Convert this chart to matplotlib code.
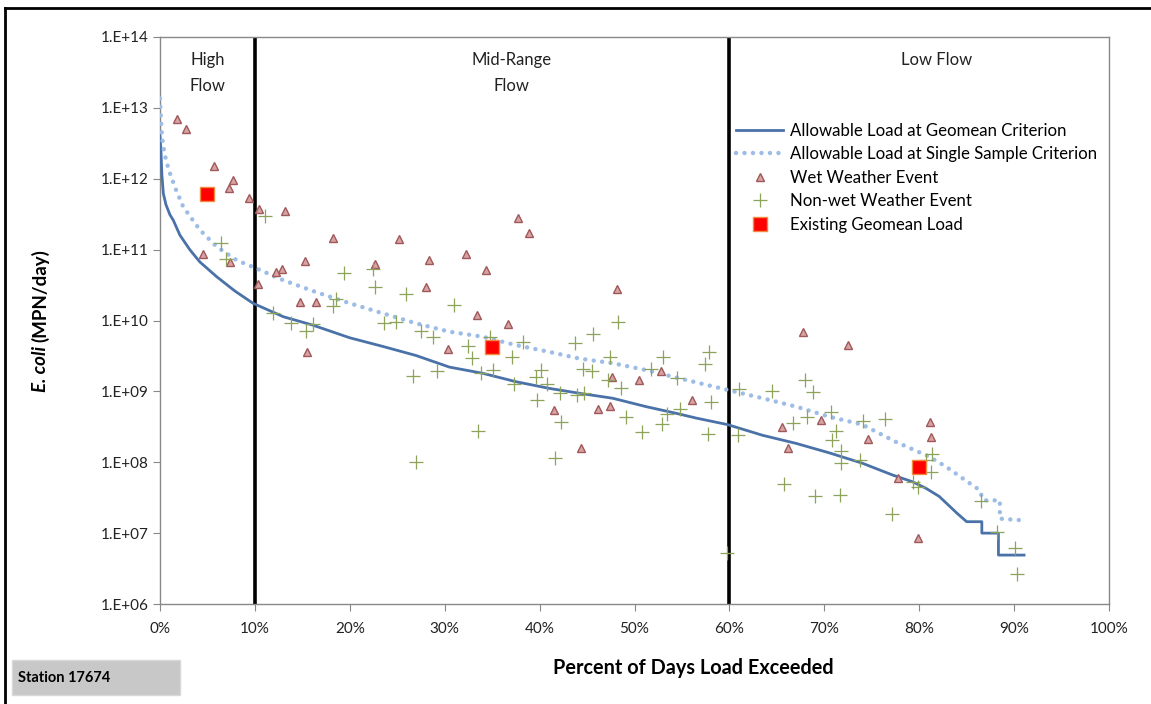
import math
import matplotlib
matplotlib.use("Agg")
from matplotlib import pyplot as plt
from matplotlib.ticker import PercentFormatter, FuncFormatter, LogLocator, NullLocator
from matplotlib.patches import Rectangle
from matplotlib.lines import Line2D

plt.rcParams['font.family'] = ['Lato', 'DejaVu Sans']

# allowable load curves (percent exceeded, MPN/day)
geo_pct = [0.0, 0.1, 0.2, 0.35, 0.63, 1.05, 1.4, 2.1, 3.16, 4.2, 5.97, 7.9, 9.8, 13.0,
           16.1, 20.0, 23.5, 27.0, 30.5, 34.0, 37.5, 41.05, 44.2, 47.7, 51.2, 54.4,
           56.5, 59.8, 63.5, 67.0, 70.5, 74.0, 77.2, 79.3, 80.7, 82.1, 83.2, 84.0,
           85.0, 86.6, 86.6, 88.35, 88.35, 91.05]
geo_load = [4.0e12, 2.5e12, 1.13e12, 6.2e11, 4.3e11, 3.1e11, 2.6e11, 1.6e11, 9.9e10,
            6.7e10, 4.15e10, 2.6e10, 1.75e10, 1.13e10, 8.6e9, 5.7e9, 4.3e9, 3.2e9,
            2.2e9, 1.8e9, 1.37e9, 1.1e9, 9.4e8, 8.0e8, 6.1e8, 4.9e8, 4.2e8, 3.4e8,
            2.4e8, 1.85e8, 1.36e8, 9.7e7, 6.6e7, 5.3e7, 4.3e7, 3.3e7, 2.4e7, 1.9e7,
            1.45e7, 1.45e7, 1.0e7, 1.0e7, 4.9e6, 4.9e6]

ss_pct = [0.0, 0.1, 0.2, 0.35, 0.63, 1.05, 1.7, 2.45, 4.2, 5.97, 8.07, 10.2, 13.0,
          16.5, 20.0, 23.5, 27.0, 30.5, 34.0, 37.5, 41.05, 44.2, 47.7, 51.2, 54.7,
          59.8, 63.5, 67.0, 70.5, 74.0, 77.5, 81.05, 82.8, 84.6, 86.3, 86.8, 88.5,
          88.5, 90.5]
ss_load = [1.36e13, 6.8e12, 4.15e12, 2.8e12, 1.84e12, 1.19e12, 6.9e11, 4.0e11,
           1.9e11, 1.1e11, 7.1e10, 5.4e10, 3.7e10, 2.5e10, 1.75e10, 1.26e10, 9.1e9,
           6.95e9, 5.9e9, 4.5e9, 3.6e9, 2.9e9, 2.5e9, 2.0e9, 1.53e9, 1.05e9, 8.0e8,
           6.1e8, 4.4e8, 3.4e8, 1.95e8, 1.2e8, 8.7e7, 5.9e7, 4.1e7, 2.9e7, 2.9e7,
           1.6e7, 1.53e7]

# wet weather samples
wet_pct = [1.76, 2.7, 5.65, 7.65, 7.26, 9.4, 10.45, 13.16, 18.2, 25.2, 37.7, 38.9,
           4.56, 7.37, 15.26, 22.7, 28.3, 32.2, 12.2, 12.9, 34.3, 10.35, 28.0, 14.8,
           16.45, 33.4, 36.7, 30.3, 15.5, 41.5, 44.4, 46.2, 48.2, 47.6, 50.5, 52.8,
           47.4, 56.1, 67.8, 72.5, 65.5, 69.7, 66.2, 74.6, 81.1, 81.2, 77.8, 79.9]
wet_load = [7.0e12, 5.0e12, 1.53e12, 9.5e11, 7.5e11, 5.3e11, 3.8e11, 3.5e11, 1.45e11,
            1.4e11, 2.8e11, 1.7e11, 8.7e10, 6.7e10, 7.0e10, 6.3e10, 7.1e10, 8.7e10,
            4.9e10, 5.3e10, 5.1e10, 3.3e10, 3.0e10, 1.8e10, 1.8e10, 1.18e10, 8.8e9,
            4.0e9, 3.6e9, 5.4e8, 1.6e8, 5.6e8, 2.8e10, 1.6e9, 1.45e9, 1.96e9, 6.3e8,
            7.6e8, 6.9e9, 4.5e9, 3.1e8, 3.9e8, 1.57e8, 2.1e8, 3.7e8, 2.3e8, 5.9e7,
            8.5e6]

# non-wet weather samples
dry_pct = [11.05, 6.42, 6.92, 19.4, 22.4, 22.7, 25.9, 18.5, 18.2, 31.0, 11.86, 23.6,
           24.9, 13.76, 16.07, 15.4, 27.5, 28.8, 34.8, 45.6, 38.2, 43.7, 32.5, 32.9,
           37.1, 35.05, 33.8, 40.2, 39.6, 40.8, 37.3, 29.2, 26.7, 42.2, 43.9, 44.7,
           39.7, 42.3, 33.5, 27.0, 41.6, 44.6, 45.5, 48.3, 47.4, 53.0, 57.8, 57.4,
           51.7, 54.5, 47.2, 48.6, 58.1, 54.8, 53.4, 49.1, 52.9, 50.8, 57.7, 61.0,
           60.9, 59.7, 64.5, 68.0, 68.8, 66.7, 68.2, 70.7, 71.2, 70.8, 74.1, 76.4,
           71.8, 71.8, 73.8, 65.8, 69.0, 71.7, 77.1, 81.3, 80.7, 81.2, 79.3, 79.9,
           86.5, 88.2, 90.1, 90.3]
dry_load = [3.0e11, 1.23e11, 7.3e10, 4.7e10, 5.4e10, 3.0e10, 2.4e10, 2.0e10, 1.6e10,
            1.65e10, 1.26e10, 9.3e9, 9.6e9, 9.1e9, 8.8e9, 7.2e9, 7.2e9, 5.9e9, 5.8e9,
            6.5e9, 5.0e9, 4.8e9, 4.3e9, 3.0e9, 3.1e9, 2.0e9, 1.8e9, 2.0e9, 1.6e9,
            1.28e9, 1.28e9, 1.94e9, 1.66e9, 9.4e8, 8.8e8, 9.6e8, 7.5e8, 3.7e8, 2.8e8,
            1.0e8, 1.14e8, 2.1e9, 1.96e9, 9.6e9, 3.1e9, 3.1e9, 3.6e9, 2.4e9, 2.1e9,
            1.53e9, 1.45e9, 1.13e9, 7.0e8, 5.7e8, 4.8e8, 4.4e8, 3.5e8, 2.7e8, 2.5e8,
            1.09e9, 2.45e8, 5.2e6, 1.01e9, 1.45e9, 9.7e8, 3.6e8, 4.4e8, 5.1e8, 2.8e8,
            2.06e8, 3.8e8, 4.1e8, 1.43e8, 9.7e7, 1.08e8, 4.9e7, 3.3e7, 3.5e7, 1.86e7,
            1.31e8, 1.08e8, 7.4e7, 5.3e7, 4.5e7, 2.8e7, 1.03e7, 6.2e6, 2.65e6]

# existing geomean load per flow regime
gm_pct = [5, 35, 80]
gm_load = [6.1e11, 4.2e9, 8.5e7]

zone_edges = [10, 60]
zone_labels = ["High\nFlow", "Mid-Range\nFlow", "Low Flow"]
zone_label_x = [5, 37, 81.8]

fig = plt.figure(figsize=(11.51, 7.04), dpi=100)
ax = fig.add_axes([160 / 1151, 1 - 604 / 704, 949 / 1151, 567 / 704])

ax.plot(geo_pct, geo_load, color='#4a72a8', lw=2, label='Allowable Load at Geomean Criterion', zorder=3)
ax.plot(ss_pct, ss_load, color='#9dbde6', lw=3.2, linestyle=(0, (0.01, 1.9)),
        dash_capstyle='round', label='Allowable Load at Single Sample Criterion', zorder=3)
ax.plot(wet_pct, wet_load, linestyle='none', marker='^', markersize=5.5,
        markerfacecolor='#d8a3a3', markeredgecolor='#a0585a', markeredgewidth=1,
        label='Wet Weather Event', zorder=4)
ax.plot(dry_pct, dry_load, linestyle='none', marker='+', markersize=10,
        markeredgewidth=0.9, color='#8ea35a', label='Non-wet Weather Event', zorder=4)
ax.plot(gm_pct, gm_load, linestyle='none', marker='s', markersize=10,
        markerfacecolor='#ff0000', markeredgecolor='#f08a40', markeredgewidth=1,
        label='Existing Geomean Load', zorder=5)

for xe in zone_edges:
    ax.axvline(xe, color='black', lw=2.6, zorder=2)

for xl, txt in zip(zone_label_x, zone_labels):
    ax.text(xl, 0.973, txt, transform=ax.get_xaxis_transform(), ha='center', va='top',
            fontsize=12, color='#222222', linespacing=1.75)

ax.set_xlim(0, 100)
ax.set_yscale('log')
ax.set_ylim(1e6, 1e14)
ax.set_xticks(range(0, 101, 10))
ax.xaxis.set_major_formatter(PercentFormatter(100, decimals=0))
ax.yaxis.set_major_locator(LogLocator(base=10, numticks=20))
ax.yaxis.set_minor_locator(NullLocator())
ax.yaxis.set_major_formatter(FuncFormatter(lambda v, p: '1.E+%02d' % round(math.log10(v))))
ax.tick_params(direction='out', length=5, color='#888888', labelsize=11, labelcolor='#222222')
ax.tick_params(axis='x', pad=8)
for s in ax.spines.values():
    s.set_color('#888888')
    s.set_linewidth(1)

ax.set_xlabel('Percent of Days Load Exceeded', fontsize=14.3, fontweight='bold')
ax.xaxis.set_label_coords((693 - 160) / 949, -(668 - 604) / 567)
ax.xaxis.label.set_va('center')

# y label: italic species name + units
fig.text(40 / 1151, 1 - 346 / 704, 'E. coli', rotation=90, ha='center', va='top',
         fontsize=13.5, fontweight='bold', fontstyle='italic')
fig.text(40 / 1151, 1 - 342 / 704, '(MPN/day)', rotation=90, ha='center', va='bottom',
         fontsize=13.5, fontweight='bold')

leg = ax.legend(loc='upper left', bbox_to_anchor=(0.6, 0.861), frameon=False,
                fontsize=12.1, handlelength=2.8, handletextpad=0.4, labelspacing=0.45,
                borderaxespad=0)

# station tag
fig.patches.append(Rectangle((12 / 1151, 1 - 695 / 704), 168 / 1151, 35 / 704,
                             transform=fig.transFigure, facecolor='#c8c8c8',
                             edgecolor='#d8d8d8', lw=1))
fig.text(18 / 1151, 1 - 678 / 704, 'Station 17674', ha='left', va='center',
         fontsize=10.5, fontweight='bold')

# outer frame (left and top edges)
fig.lines.append(Line2D([5 / 1151, 5 / 1151], [0, 1 - 8 / 704], transform=fig.transFigure,
                        color='black', lw=2))
fig.lines.append(Line2D([5 / 1151, 1], [1 - 8 / 704, 1 - 8 / 704], transform=fig.transFigure,
                        color='black', lw=2))

fig.savefig('out.png', dpi=100)
